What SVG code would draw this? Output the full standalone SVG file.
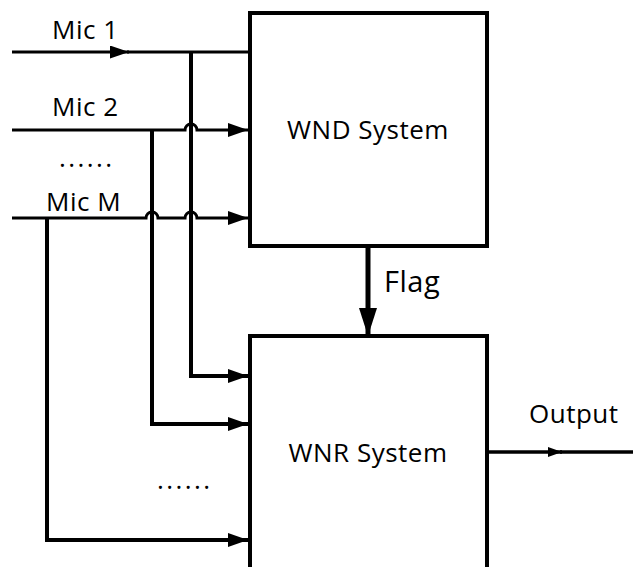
<svg xmlns="http://www.w3.org/2000/svg" width="633" height="567" viewBox="0 0 633 567">
<style>
.box{fill:none;stroke:#000;stroke-width:4}
.w{fill:none;stroke:#000;stroke-linejoin:miter}
.t{font-family:"Open Sans","Liberation Sans",sans-serif;fill:#000;font-size:26px;letter-spacing:0.5px}
.d{letter-spacing:2.4px}
</style>
<defs>
<marker id="a" markerUnits="userSpaceOnUse" viewBox="0 0 20 14" refX="20" refY="7" markerWidth="20" markerHeight="14" orient="auto"><path d="M0,0L20,7L0,14z"/></marker>
<marker id="big" markerUnits="userSpaceOnUse" viewBox="0 0 18 28" refX="9" refY="28" markerWidth="18" markerHeight="28" orient="0"><path d="M0,0L18,0L9,28z"/></marker>
<marker id="m1" markerUnits="userSpaceOnUse" viewBox="0 0 19 13" refX="19" refY="6.5" markerWidth="19" markerHeight="13" orient="auto"><path d="M0,0L19,6.5L0,13z"/></marker>
<marker id="sm" markerUnits="userSpaceOnUse" viewBox="0 0 14 10" refX="14" refY="5" markerWidth="14" markerHeight="10" orient="auto"><path d="M0,0L14,5L0,10z"/></marker>
</defs>
<rect width="633" height="567" fill="#fff"/>
<g id="wnd">
<rect class="box" x="250" y="13" width="237" height="233"/>
<text class="t" x="368" y="139" text-anchor="middle">WND System</text>
</g>
<g id="wnr">
<path class="box" d="M250,580V336H487V580"/>
<text class="t" x="368" y="462" text-anchor="middle">WNR System</text>
</g>
<g id="labels">
<text class="t" x="52" y="39">Mic 1</text>
<text class="t" x="52" y="116">Mic 2</text>
<text class="t d" x="59" y="167">......</text>
<text class="t" x="46" y="211">Mic M</text>
<text class="t" x="384" y="292" style="font-size:29px">Flag</text>
<text class="t" x="529" y="423">Output</text>
<text class="t d" x="157" y="489">......</text>
</g>
<g id="connectors">
<path class="w" stroke-width="3" d="M12,52H129" marker-end="url(#m1)"/>
<path class="w" stroke-width="3" d="M127,52H250"/>
<path class="w" stroke-width="4" d="M191,52V376H248" marker-end="url(#a)"/>
<path class="w" stroke-width="3" d="M12,130H185A6,6 0 0 1 197,130H248" marker-end="url(#a)"/>
<path class="w" stroke-width="4" d="M152,130V424H248" marker-end="url(#a)"/>
<path class="w" stroke-width="3" d="M12,218H146A6,6 0 0 1 158,218H185A6,6 0 0 1 197,218H248" marker-end="url(#a)"/>
<path class="w" stroke-width="4" d="M47,218V540H248" marker-end="url(#a)"/>
<path class="w" stroke-width="5" d="M368,246V336" marker-end="url(#big)"/>
<path class="w" stroke-width="3.5" d="M487,452H562" marker-end="url(#sm)"/>
<path class="w" stroke-width="3.5" d="M560,452H633"/>
</g>
</svg>
